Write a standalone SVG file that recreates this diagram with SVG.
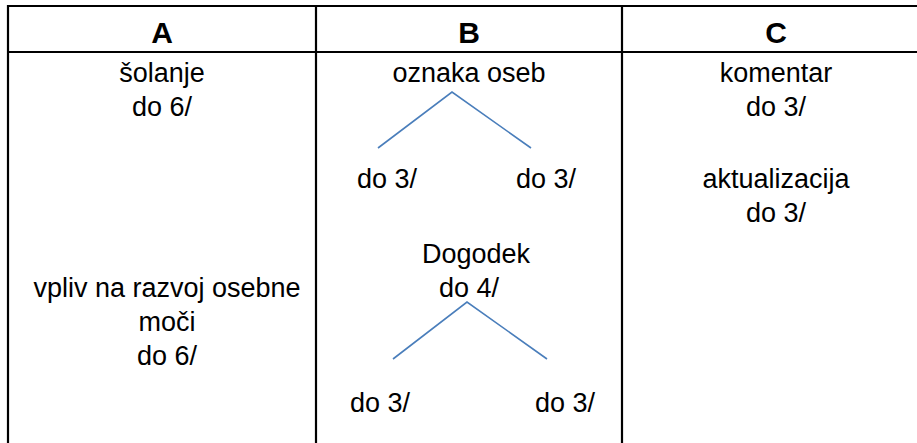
<svg xmlns="http://www.w3.org/2000/svg" width="917" height="443" viewBox="0 0 917 443">
<style>
.grid{stroke:#000;stroke-width:2.2;fill:none}
.h{font-family:"Liberation Sans",Arial,sans-serif;font-size:30px;font-weight:bold;text-anchor:middle;fill:#000}
.t{font-family:"Liberation Sans",Arial,sans-serif;font-size:27px;text-anchor:middle;fill:#000}
.c{stroke:#4A7EBB;stroke-width:1.6;fill:none}
</style>
<rect width="917" height="443" fill="#fff"/>
<g id="table">
<path class="grid" d="M8 6H930M8 52H930M8 5V443M316 5V443M622 5V443"/>
</g>
<g id="headers">
<text class="h" x="162" y="43">A</text>
<text class="h" x="469" y="43">B</text>
<text class="h" x="776" y="43">C</text>
</g>
<g id="colA">
<g id="a1"><text class="t" x="162" y="82">šolanje</text><text class="t" x="162" y="116">do 6/</text></g>
<g id="a2"><text class="t" x="167" y="297">vpliv na razvoj osebne</text><text class="t" x="167" y="331">moči</text><text class="t" x="167" y="365">do 6/</text></g>
</g>
<g id="colB">
<g id="b1"><text class="t" x="469" y="82">oznaka oseb</text></g>
<g id="b1l"><text class="t" x="387" y="188">do 3/</text></g>
<g id="b1r"><text class="t" x="546" y="188">do 3/</text></g>
<g id="b2"><text class="t" x="476" y="263">Dogodek</text><text class="t" x="469" y="297">do 4/</text></g>
<g id="b2l"><text class="t" x="380" y="412">do 3/</text></g>
<g id="b2r"><text class="t" x="565" y="412">do 3/</text></g>
</g>
<g id="colC">
<g id="c1"><text class="t" x="776" y="82">komentar</text><text class="t" x="776" y="116">do 3/</text></g>
<g id="c2"><text class="t" x="776" y="188">aktualizacija</text><text class="t" x="776" y="222">do 3/</text></g>
</g>
<g id="connectors">
<path class="c" d="M378 148L452 92L531 148"/>
<path class="c" d="M393 359L467 302L547 359"/>
</g>
</svg>
